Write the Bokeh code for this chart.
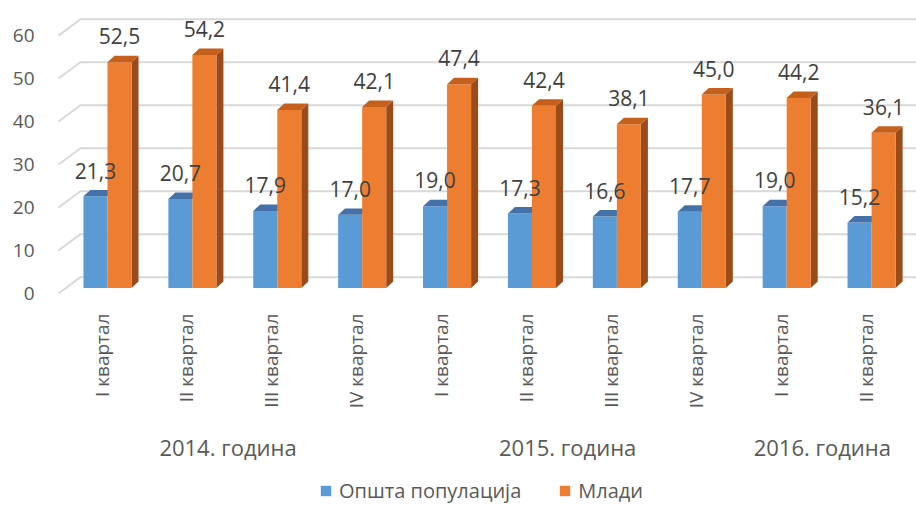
import math
from bokeh.plotting import figure
from bokeh.layouts import column
from bokeh.models import Range1d, LinearAxis, FixedTicker, Legend, LegendItem
from bokeh.core.properties import value
from bokeh.embed import file_html
from bokeh.resources import INLINE

# ---------------- data ----------------
quarters = ["I квартал", "II квартал", "III квартал", "IV квартал",
            "I квартал", "II квартал", "III квартал", "IV квартал",
            "I квартал", "II квартал"]
years = ["2014. година", "2015. година", "2016. година"]
year_counts = [4, 4, 2]
general = [21.3, 20.7, 17.9, 17.0, 19.0, 17.3, 16.6, 17.7, 19.0, 15.2]
youth = [52.5, 54.2, 41.4, 42.1, 47.4, 42.4, 38.1, 45.0, 44.2, 36.1]
series_names = ["Општа популација", "Млади"]
y_ticks = [0, 10, 20, 30, 40, 50, 60]

# ---------------- style / geometry ----------------
FONT = "Open Sans"
BLUE, BLUE_TOP = "#5B9BD5", "#4472A8"
ORANGE, ORANGE_TOP, ORANGE_SIDE = "#ED7D31", "#C45F1C", "#9B4B19"
GRID = "#D9D9D9"
TXT = "#404040"
AX_TXT = "#595959"
W = 0.283              # bar front width (x units)
DX, DY = 0.0825, 1.5   # bar depth offsets
GX0, GX1 = -0.577, -0.318   # floor diagonal of gridlines
G_FRONT, G_BACK = -1.3, 2.5
LABEL_GAP = 6.0
X0, X1 = -0.671, 9.529
Y0, Y1 = -2.0, 65.0

idx = list(range(len(quarters)))

p = figure(width=916, height=470, x_range=Range1d(X0, X1), y_range=Range1d(Y0, Y1),
           output_backend="svg", toolbar_location=None,
           x_axis_location=None, y_axis_location=None,
           min_border_left=50, min_border_right=0, min_border_top=8, min_border_bottom=174)
p.outline_line_color = None
p.xgrid.visible = False
p.ygrid.visible = False
p.background_fill_color = "white"
p.border_fill_color = "white"

# gridlines with 3D floor diagonal
p.multi_line(xs=[[GX0, GX1, X1] for v in y_ticks],
             ys=[[v + G_FRONT, v + G_BACK, v + G_BACK] for v in y_ticks],
             line_color=GRID, line_width=2)

# blue bars
bx = [i - W / 2 for i in idx]
p.vbar(x=bx, top=general, width=W, bottom=0, fill_color=BLUE, line_color=None)
p.patches(xs=[[i - W, i, i + DX, i - W + DX] for i in idx],
          ys=[[v, v, v + DY, v + DY] for v in general],
          fill_color=BLUE_TOP, line_color=None)

# orange bars
ox = [i + W / 2 for i in idx]
p.patches(xs=[[i + W, i + W, i + W + DX, i + W + DX] for i in idx],
          ys=[[0, v, v + DY, DY] for v in youth],
          fill_color=ORANGE_SIDE, line_color=None)
p.vbar(x=ox, top=youth, width=W, bottom=0, fill_color=ORANGE, line_color=None)
p.patches(xs=[[i, i + W, i + W + DX, i + DX] for i in idx],
          ys=[[v, v, v + DY, v + DY] for v in youth],
          fill_color=ORANGE_TOP, line_color=None)

# value labels
def fmt(v):
    return f"{v:.1f}".replace(".", ",")

p.text(x=bx, y=[v + LABEL_GAP for v in general], text=[fmt(v) for v in general],
       text_font=value(FONT), text_font_size="21px", text_color=TXT,
       text_align="center", text_baseline="middle")
p.text(x=ox, y=[v + LABEL_GAP for v in youth], text=[fmt(v) for v in youth],
       text_font=value(FONT), text_font_size="21px", text_color=TXT,
       text_align="center", text_baseline="middle")


def style_axis(ax, standoff, size):
    ax.axis_line_color = None
    ax.major_tick_line_color = None
    ax.minor_tick_line_color = None
    ax.major_tick_out = 0
    ax.major_tick_in = 0
    ax.major_label_standoff = standoff
    ax.major_label_text_font = FONT
    ax.major_label_text_font_size = size
    ax.major_label_text_color = AX_TXT


# y axis (front plane of the 3D floor)
p.extra_y_ranges = {"lab": Range1d(Y0 + 1.23, Y1 + 1.23)}
yax = LinearAxis(y_range_name="lab", ticker=FixedTicker(ticks=y_ticks))
style_axis(yax, 16, "19px")
p.add_layout(yax, "left")

# quarter axis
q_ticks = [round(i - 0.07, 3) for i in idx]
qax = LinearAxis(ticker=FixedTicker(ticks=q_ticks),
                 major_label_overrides={t: q for t, q in zip(q_ticks, quarters)},
                 major_label_orientation=math.pi / 2)
style_axis(qax, 17, "19px")
p.add_layout(qax, "below")

# year axis
year_ticks = []
start = 0
for c in year_counts:
    year_ticks.append(round(start + (c - 1) / 2 - 0.08, 3))
    start += c
yrax = LinearAxis(ticker=FixedTicker(ticks=year_ticks),
                  major_label_overrides={t: y for t, y in zip(year_ticks, years)})
style_axis(yrax, 20, "22px")
p.add_layout(yrax, "below")

# ---------------- legend strip ----------------
# same series drawn again, but far outside this strip's visible ranges,
# so only the legend entries show
p2 = figure(width=916, height=41, x_range=Range1d(X0 + 50, X1 + 50), y_range=Range1d(100, 101),
            output_backend="svg", toolbar_location=None,
            x_axis_location=None, y_axis_location=None,
            min_border_left=0, min_border_right=0, min_border_top=0, min_border_bottom=0)
p2.outline_line_color = None
p2.xgrid.visible = False
p2.ygrid.visible = False
lb = p2.vbar(x=bx, top=general, width=W, bottom=0, fill_color=BLUE, line_color=None)
lo = p2.vbar(x=ox, top=youth, width=W, bottom=0, fill_color=ORANGE, line_color=None)
legend = Legend(items=[LegendItem(label=series_names[0], renderers=[lb]),
                       LegendItem(label=series_names[1], renderers=[lo])],
                orientation="horizontal", location=(269, 7),
                glyph_width=13, glyph_height=13, label_height=13,
                label_standoff=7, spacing=37, padding=0, margin=0,
                border_line_color=None, background_fill_alpha=0,
                label_text_font=FONT, label_text_font_size="20px",
                label_text_color=AX_TXT)
p2.add_layout(legend)

layout = column(p, p2, spacing=0)
open("out.html", "w").write(file_html(layout, INLINE))
